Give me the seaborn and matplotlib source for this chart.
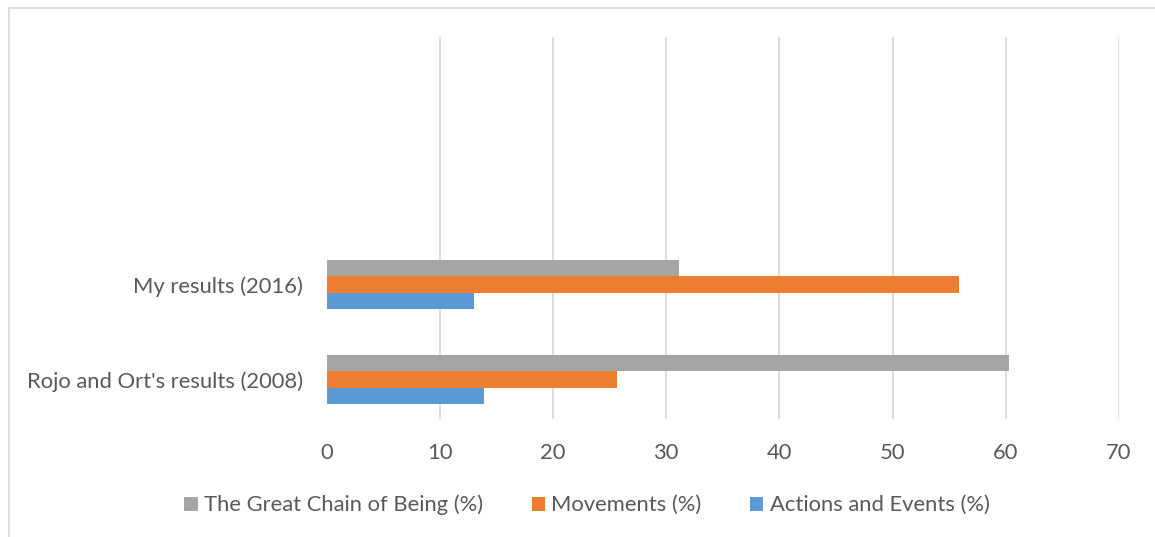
import pandas as pd
import matplotlib.pyplot as plt
import seaborn as sns
from matplotlib.lines import Line2D
from matplotlib.patches import Patch

# categories (top to bottom) and series
studies = ["My results (2016)", "Rojo and Ort's results (2008)"]
series = ["The Great Chain of Being (%)", "Movements (%)", "Actions and Events (%)"]
great_chain = [31.1, 60.3]
movements = [55.9, 25.7]
actions = [13.0, 13.9]
colors = ["#A5A5A5", "#ED7D31", "#5B9BD5"]
x_ticks = [0, 10, 20, 30, 40, 50, 60, 70]

TEXT = "#595959"
GRID = "#D9D9D9"
FS = 15.8


def main():
    rows = []
    for name, vals in zip(series, [great_chain, movements, actions]):
        for study, v in zip(studies, vals):
            rows.append({"study": study, "series": name, "value": v})
    df = pd.DataFrame(rows)

    sns.set_style("white")
    plt.rcParams["font.family"] = ["Lato", "DejaVu Sans"]

    fig = plt.figure(figsize=(11.55, 5.37), dpi=100)
    ax = fig.add_axes([326.5 / 1155, 1 - 419 / 537, (1119 - 326.5) / 1155, (419 - 37) / 537])

    sns.barplot(data=df, y="study", x="value", hue="series", order=studies,
                hue_order=series, palette=colors, orient="h", width=0.516,
                gap=0, linewidth=0, saturation=1, ax=ax, legend=False)

    ax.set_xlim(0, 70)
    ax.set_ylim(1.416, -2.605)
    ax.set_xticks(x_ticks)
    ax.set_xticklabels([str(t) for t in x_ticks])
    ax.grid(axis="x", color=GRID, linewidth=1.3)
    ax.xaxis.get_gridlines()[0].set_visible(False)
    ax.set_axisbelow(True)
    for s in ax.spines.values():
        s.set_visible(False)
    ax.tick_params(axis="x", length=0, pad=17, labelsize=FS, labelcolor=TEXT)
    ax.tick_params(axis="y", length=0, pad=17, labelsize=FS, labelcolor=TEXT)
    ax.set_xlabel("")
    ax.set_ylabel("")

    handles = [Patch(facecolor=c, edgecolor="none") for c in colors]
    fig.legend(handles, series, loc="center", bbox_to_anchor=(587 / 1155, 1 - 505 / 537),
               ncol=3, frameon=False, fontsize=FS, labelcolor=TEXT,
               handlelength=0.6, handleheight=0.6, handletextpad=0.3,
               columnspacing=2.2)

    # outer chart frame (only top and left are inside the picture)
    fig.add_artist(Line2D([9 / 1155, 9 / 1155], [0, 1 - 8 / 537], color=GRID, linewidth=1.2))
    fig.add_artist(Line2D([9 / 1155, 1], [1 - 8 / 537, 1 - 8 / 537], color=GRID, linewidth=1.2))

    fig.savefig("out.png", dpi=100)


if __name__ == "__main__":
    main()
